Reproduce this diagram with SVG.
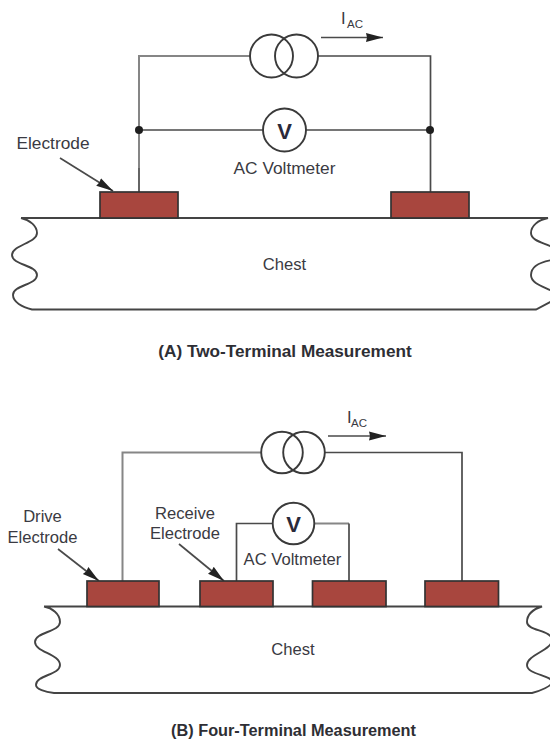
<svg xmlns="http://www.w3.org/2000/svg" width="550" height="740" viewBox="0 0 550 740">
<style>
text{font-family:"Liberation Sans",Arial,sans-serif;font-size:16.6px;fill:#3a3a42;text-anchor:middle}
.l{font-size:17.3px}
.t{font-weight:bold;font-size:17.2px;fill:#2e2e34}
.t2{font-weight:bold;font-size:16.3px;fill:#2e2e34}
.s{font-size:11.5px;text-anchor:start}
.i{text-anchor:start}
.w{fill:none;stroke:#4a4a4a;stroke-width:1.7}
.g{fill:none;stroke:#868686;stroke-width:2}
.b{fill:none;stroke:#444;stroke-width:1.9}
.e{fill:#A8463E;stroke:#333;stroke-width:1.7}
.c{fill:#fff;stroke:#3a3a3a;stroke-width:1.9}
.o{fill:none;stroke:#3a3a3a;stroke-width:1.9}
.d{fill:#1e1e1e}
.v{font-weight:bold;font-size:22px;fill:#2a2a3a}
</style>
<defs>
<marker id="a" markerUnits="userSpaceOnUse" markerWidth="18" markerHeight="11" refX="17" refY="5.500" orient="auto"><path d="M0 1 L17 5.500 L0 10 L1 5.500Z" fill="#222"/></marker>
</defs>
<g id="chest-a"><path class="b" d="M21 218H548C538 220 531 226 531 233C531 241 545 243 552 247M552 260C540 262 531 267 531 275C531 284 545 287 552 291M552 301L536 309.500H32C22 307 13 302 13 295C13 285 37 285 37 275C37 265 12 265 12 255C12 245 37 243 37 233C37 226 30 220 21 218"/></g>
<g id="chest-b"><path class="b" d="M44 606.500H542C534 609 527 614 527 622C527 631 552 630 552 640C552 650 527 655 527 665C527 675 552 675 552 682C552 686 540 691 532 693H54C45 692 36 689 36 685C36 675 60 675 60 665C60 654 35 652 35 642C35 632 60 632 60 622C60 614 52 608 44 606.500"/></g>
<g id="connectors">
<path class="g" d="M139 168V56H251"/>
<path class="w" d="M139 192V168M318 56H430.500V192M139 130H264M306 130H430"/>
<path class="g" d="M122.500 581V452.500H262M314 523.500H349"/>
<path class="w" d="M325 452.500H462V581M236.500 581V523.500H273M349 523.500V581"/>
<path class="w" d="M321 37.500H383" marker-end="url(#a)"/>
<path class="w" d="M328 436H386" marker-end="url(#a)"/>
<path class="w" d="M60 158L113 191" marker-end="url(#a)"/>
<path class="w" d="M58 549L99 581" marker-end="url(#a)"/>
<path class="w" d="M179 544L224 581" marker-end="url(#a)"/>
</g>
<g id="current-source-a"><circle class="o" cx="271.500" cy="56" r="21.500"/><circle class="o" cx="296.500" cy="56" r="21.500"/></g>
<g id="voltmeter-a"><circle class="c" cx="284.500" cy="130" r="21.500"/><text class="v" x="284.500" y="138.500">V</text></g>
<g id="junction-l"><circle class="d" cx="139" cy="130" r="4"/></g>
<g id="junction-r"><circle class="d" cx="430" cy="130" r="4"/></g>
<g id="electrode-a1"><rect class="e" x="100" y="192" width="78" height="26"/></g>
<g id="electrode-a2"><rect class="e" x="391" y="192" width="78" height="26"/></g>
<g id="current-source-b"><circle class="o" cx="282" cy="452.500" r="20.800"/><circle class="o" cx="304" cy="452.500" r="20.800"/></g>
<g id="voltmeter-b"><circle class="c" cx="293.500" cy="523.500" r="20.800"/><text class="v" x="293.500" y="532">V</text></g>
<g id="electrode-b1"><rect class="e" x="87" y="581" width="72" height="25.500"/></g>
<g id="electrode-b2"><rect class="e" x="200" y="581" width="73" height="25.500"/></g>
<g id="electrode-b3"><rect class="e" x="312.500" y="581" width="73.500" height="25.500"/></g>
<g id="electrode-b4"><rect class="e" x="425" y="581" width="73.500" height="25.500"/></g>
<g id="labels">
<text class="i" x="341" y="24">I</text><text class="s" x="347" y="28">AC</text>
<text class="i" x="347" y="423">I</text><text class="s" x="351" y="427">AC</text>
<text class="l" x="53" y="149">Electrode</text>
<text class="l" x="284.500" y="174">AC Voltmeter</text>
<text x="284.500" y="270">Chest</text>
<text class="t" x="285" y="357">(A) Two-Terminal Measurement</text>
<text x="42.500" y="522">Drive</text>
<text x="42.500" y="543">Electrode</text>
<text x="185" y="519">Receive</text>
<text x="185" y="539">Electrode</text>
<text x="292.500" y="565">AC Voltmeter</text>
<text x="293" y="655">Chest</text>
<text class="t2" x="293.500" y="736">(B) Four-Terminal Measurement</text>
</g>
</svg>
